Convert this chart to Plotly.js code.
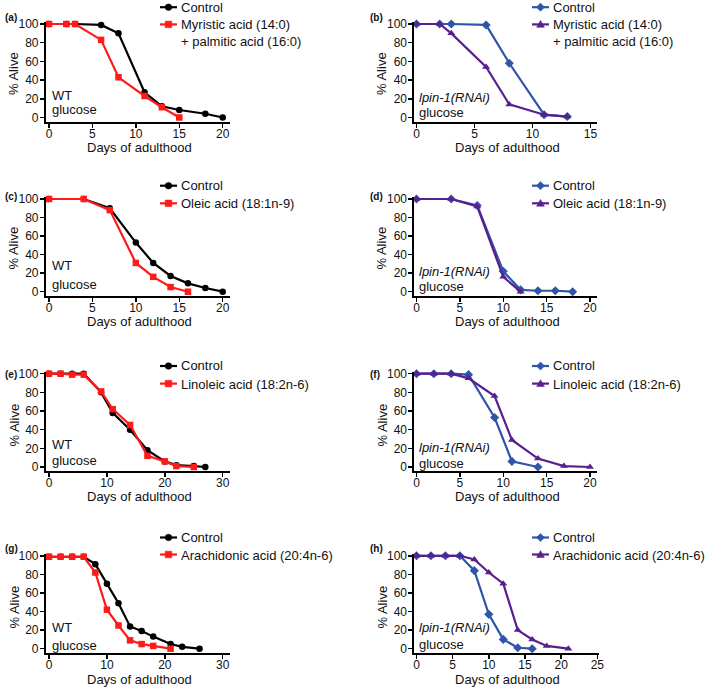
<!DOCTYPE html>
<html><head><meta charset="utf-8">
<script src="https://cdn.plot.ly/plotly-3.0.1.min.js"></script>
<style>html,body{margin:0;padding:0;background:#fff}#chart{width:709px;height:688px}</style>
</head><body><div id="chart"></div>
<script>
// ---------------- DATA ----------------
const panelLabels = ['(a)','(b)','(c)','(d)','(e)','(f)','(g)','(h)'];
const backgroundLabels = ['WT','<i>lpin-1(RNAi)</i>','WT','<i>lpin-1(RNAi)</i>','WT','<i>lpin-1(RNAi)</i>','WT','<i>lpin-1(RNAi)</i>'];
const dietLabel = 'glucose';
const controlName = 'Control';
const treatmentNames = [
  'Myristic acid (14:0)<br>+ palmitic acid (16:0)',
  'Myristic acid (14:0)<br>+ palmitic acid (16:0)',
  'Oleic acid (18:1n-9)',
  'Oleic acid (18:1n-9)',
  'Linoleic acid (18:2n-6)',
  'Linoleic acid (18:2n-6)',
  'Arachidonic acid (20:4n-6)',
  'Arachidonic acid (20:4n-6)'
];
const xTitle = 'Days of adulthood';
const yTitle = '% Alive';
const yTickVals = [0,20,40,60,80,100];
const xTickVals = [
  [0,5,10,15,20],[0,5,10,15],[0,5,10,15,20],[0,5,10,15,20],
  [0,10,20,30],[0,5,10,15,20],[0,10,20,30],[0,5,10,15,20,25]
];

// (a) WT, myristic + palmitic
const daysA_ctrl = [0,2,3,6,8,11,13,15,18,20];
const aliveA_ctrl = [100,100,100,99,90,27,12,8,4,0];
const daysA_fa = [0,2,3,6,8,11,13,15];
const aliveA_fa = [100,100,100,83,43,23,11,0];
// (b) lpin-1(RNAi), myristic + palmitic
const daysB_ctrl = [0,2,3,6,8,11,13];
const aliveB_ctrl = [100,100,100,99,58,3,1];
const daysB_fa = [0,2,3,6,8,11,13];
const aliveB_fa = [100,100,90,54,14,3,1];
// (c) WT, oleic
const daysC_ctrl = [0,4,7,10,12,14,16,18,20];
const aliveC_ctrl = [100,100,90,53,31,17,9,4,0];
const daysC_fa = [0,4,7,10,12,14,16];
const aliveC_fa = [100,100,88,31,16,5,0];
// (d) lpin-1(RNAi), oleic
const daysD_ctrl = [0,4,7,10,12,14,16,18];
const aliveD_ctrl = [100,100,93,22,2,1,1,0];
const daysD_fa = [0,4,7,10,12];
const aliveD_fa = [100,100,92,16,0];
// (e) WT, linoleic
const daysE_ctrl = [0,2,4,6,9,11,14,17,20,22,25,27];
const aliveE_ctrl = [100,100,100,100,80,58,40,18,6,2,1,0];
const daysE_fa = [0,2,4,6,9,11,14,17,20,22,25];
const aliveE_fa = [100,100,99,99,81,62,45,12,6,1,0];
// (f) lpin-1(RNAi), linoleic
const daysF_ctrl = [0,2,4,6,9,11,14];
const aliveF_ctrl = [100,100,100,99,53,6,0];
const daysF_fa = [0,2,4,6,9,11,14,17,20];
const aliveF_fa = [100,100,100,95,76,29,9,1,0];
// (g) WT, arachidonic
const daysG_ctrl = [0,2,4,6,8,10,12,14,16,18,21,23,26];
const aliveG_ctrl = [99,99,99,99,91,70,49,24,19,13,5,2,0];
const daysG_fa = [0,2,4,6,8,10,12,14,16,18,21];
const aliveG_fa = [99,99,99,99,82,42,25,9,5,3,0];
// (h) lpin-1(RNAi), arachidonic
const daysH_ctrl = [0,2,4,6,8,10,12,14,16];
const aliveH_ctrl = [100,100,100,100,84,37,10,1,0];
const daysH_fa = [0,2,4,6,8,10,12,14,16,18,21];
const aliveH_fa = [100,100,100,100,96,82,70,20,10,3,0];

const panelSeries = [
  [daysA_ctrl, aliveA_ctrl, daysA_fa, aliveA_fa],
  [daysB_ctrl, aliveB_ctrl, daysB_fa, aliveB_fa],
  [daysC_ctrl, aliveC_ctrl, daysC_fa, aliveC_fa],
  [daysD_ctrl, aliveD_ctrl, daysD_fa, aliveD_fa],
  [daysE_ctrl, aliveE_ctrl, daysE_fa, aliveE_fa],
  [daysF_ctrl, aliveF_ctrl, daysF_fa, aliveF_fa],
  [daysG_ctrl, aliveG_ctrl, daysG_fa, aliveG_fa],
  [daysH_ctrl, aliveH_ctrl, daysH_fa, aliveH_fa]
];

// ---------------- LAYOUT / STYLE ----------------
const W = 709, H = 688;
const FONT = 'Liberation Sans, Arial, Helvetica, sans-serif';
const TXT = '#111111';
const colGeo = [
  {lineX: 45.5, p0: 49.0, textX: 178.5, titleX: 139, yTitleX: 13.5, annX: 49.5, labX: 3},
  {lineX: 414.0, p0: 416.5, textX: 550.5, titleX: 507, yTitleX: 381.5, annX: 416.5, labX: 368}
];
const lastTickPx = [222.7, 590.5, 222.7, 590.0, 222.7, 590.0, 222.7, 597.3];
const rightPx   = [229.5, 596.5, 229.5, 596.5, 229.5, 596.5, 229.5, 598.5];
const rowGeo = [
  {top: 22.0, p100: 24.0, p0: 117.5, bottom: 122.0, titleY: 147.0, yTitleY: 73.5, legY: 7.2, legGap: 17.2, labY: 17},
  {top: 197.0, p100: 199.0, p0: 291.7, bottom: 296.0, titleY: 321.5, yTitleY: 248, legY: 185.7, legGap: 17.6, labY: 196.7},
  {top: 371.5, p100: 373.7, p0: 467.0, bottom: 471.0, titleY: 497.0, yTitleY: 425, legY: 366.0, legGap: 17.6, labY: 374},
  {top: 553.5, p100: 555.8, p0: 648.7, bottom: 653.0, titleY: 679.0, yTitleY: 607, legY: 537.5, legGap: 17.0, labY: 548.5}
];
const annYs = [[95,109.3],[97.5,112.5],[265,284],[271.5,286.7],[444,460.7],[447.8,463],[627.7,645],[627.5,644.5]];

const ctrlStyleWT = {color:'#000000', symbol:'circle', size:6.5};
const faStyleWT = {color:'#ff1a1a', symbol:'square', size:6.5};
const ctrlStyleRNAi = {color:'#2f55a8', symbol:'diamond', size:7};
const faStyleRNAi = {color:'#5a1f8e', symbol:'triangle-up', size:7};

const px2x = px => px / W;
const px2y = py => 1 - py / H;

const traces = [];
const layout = {
  width: W, height: H,
  margin: {l:0, r:0, t:0, b:0},
  paper_bgcolor: '#ffffff', plot_bgcolor: 'rgba(0,0,0,0)',
  font: {family: FONT, color: TXT, size: 12},
  annotations: [], shapes: [],
  showlegend: false
};

// legend key (line + symbol) drawn as paper shapes
function legendKey(style, cx, cy) {
  const half = 8.5, r = 3.3;
  layout.shapes.push({type:'line', xref:'paper', yref:'paper',
    x0: px2x(cx - half), x1: px2x(cx + half), y0: px2y(cy), y1: px2y(cy),
    line: {color: style.color, width: 2.2}});
  const fill = {fillcolor: style.color, line: {color: style.color, width: 0.5}, xref:'paper', yref:'paper'};
  if (style.symbol === 'circle') {
    layout.shapes.push(Object.assign({type:'circle', x0: px2x(cx-r), x1: px2x(cx+r), y0: px2y(cy+r), y1: px2y(cy-r)}, fill));
  } else if (style.symbol === 'square') {
    layout.shapes.push(Object.assign({type:'rect', x0: px2x(cx-r), x1: px2x(cx+r), y0: px2y(cy+r), y1: px2y(cy-r)}, fill));
  } else if (style.symbol === 'diamond') {
    const d = r + 0.8;
    const p = `M${px2x(cx)},${px2y(cy-d)} L${px2x(cx+d)},${px2y(cy)} L${px2x(cx)},${px2y(cy+d)} L${px2x(cx-d)},${px2y(cy)} Z`;
    layout.shapes.push(Object.assign({type:'path', path: p}, fill));
  } else {
    const d = r + 0.6;
    const p = `M${px2x(cx)},${px2y(cy-d)} L${px2x(cx+d)},${px2y(cy+d*0.75)} L${px2x(cx-d)},${px2y(cy+d*0.75)} Z`;
    layout.shapes.push(Object.assign({type:'path', path: p}, fill));
  }
}

for (let i = 0; i < 8; i++) {
  const col = colGeo[i % 2], row = rowGeo[Math.floor(i / 2)];
  const k = i === 0 ? '' : String(i + 1);
  const xk = 'x' + k, yk = 'y' + k;
  const xt = xTickVals[i];
  const vLast = xt[xt.length - 1];
  const right = rightPx[i];
  const xv = p => (p - col.p0) / (lastTickPx[i] - col.p0) * vLast;
  const yv = p => (row.p0 - p) / (row.p0 - row.p100) * 100;

  const axisCommon = {
    showline: true, linecolor: '#000', linewidth: 1.6,
    ticks: 'outside', ticklen: 4, tickwidth: 1.5, tickcolor: '#000',
    showgrid: false, zeroline: false, fixedrange: true,
    tickfont: {family: FONT, size: 12, color: TXT}
  };
  layout['xaxis' + k] = Object.assign({}, axisCommon, {
    domain: [px2x(col.lineX), px2x(right)],
    range: [xv(col.lineX), xv(right)],
    tickmode: 'array', tickvals: xt, anchor: yk, ticklabelstandoff: -4
  });
  layout['yaxis' + k] = Object.assign({}, axisCommon, {
    domain: [px2y(row.bottom), px2y(row.top)],
    range: [yv(row.bottom), yv(row.top)],
    tickmode: 'array', tickvals: yTickVals, anchor: xk, ticklabelstandoff: -1
  });

  const wt = (i % 2 === 0);
  const cs = wt ? ctrlStyleWT : ctrlStyleRNAi;
  const fs = wt ? faStyleWT : faStyleRNAi;
  const s = panelSeries[i];
  traces.push({
    type: 'scatter', mode: 'lines+markers', x: s[0], y: s[1], name: controlName,
    xaxis: xk, yaxis: yk, cliponaxis: false,
    line: {color: cs.color, width: 2.2},
    marker: {color: cs.color, symbol: cs.symbol, size: cs.size}
  });
  traces.push({
    type: 'scatter', mode: 'lines+markers', x: s[2], y: s[3], name: treatmentNames[i].replace('<br>', ' '),
    xaxis: xk, yaxis: yk, cliponaxis: false,
    line: {color: fs.color, width: 2.2},
    marker: {color: fs.color, symbol: fs.symbol, size: fs.size}
  });

  // legend (drawn manually to match the reference's compact keys)
  const keyX = col.textX - 10;
  const ly1 = row.legY, ly2 = row.legY + row.legGap;
  legendKey(cs, keyX, ly1);
  legendKey(fs, keyX, ly2);
  layout.annotations.push({
    text: controlName, xref: 'paper', yref: 'paper',
    x: px2x(col.textX), y: px2y(ly1), xanchor: 'left', yanchor: 'middle',
    showarrow: false, font: {family: FONT, size: 13, color: TXT}
  });
  layout.annotations.push({
    text: treatmentNames[i], xref: 'paper', yref: 'paper', align: 'left',
    x: px2x(col.textX), y: px2y(ly2 - 9), xanchor: 'left', yanchor: 'top',
    showarrow: false, font: {family: FONT, size: 13, color: TXT}
  });

  // panel label
  layout.annotations.push({
    text: '<b>' + panelLabels[i] + '</b>', xref: 'paper', yref: 'paper',
    x: px2x(col.labX), y: px2y(row.labY), xanchor: 'left', yanchor: 'middle',
    showarrow: false, font: {family: FONT, size: 10, color: TXT}
  });
  // strain / diet labels
  layout.annotations.push({
    text: backgroundLabels[i], xref: 'paper', yref: 'paper',
    x: px2x(col.annX), y: px2y(annYs[i][0]), xanchor: 'left', yanchor: 'middle',
    showarrow: false, font: {family: FONT, size: 13, color: TXT}
  });
  layout.annotations.push({
    text: dietLabel, xref: 'paper', yref: 'paper',
    x: px2x(col.annX), y: px2y(annYs[i][1]), xanchor: 'left', yanchor: 'middle',
    showarrow: false, font: {family: FONT, size: 13, color: TXT}
  });
  // axis titles
  layout.annotations.push({
    text: xTitle, xref: 'paper', yref: 'paper',
    x: px2x(col.titleX), y: px2y(row.titleY), xanchor: 'center', yanchor: 'middle',
    showarrow: false, font: {family: FONT, size: 13, color: TXT}
  });
  layout.annotations.push({
    text: yTitle, xref: 'paper', yref: 'paper', textangle: -90,
    x: px2x(col.yTitleX), y: px2y(row.yTitleY), xanchor: 'center', yanchor: 'middle',
    showarrow: false, font: {family: FONT, size: 13, color: TXT}
  });
}

Plotly.newPlot('chart', traces, layout, {displayModeBar: false, staticPlot: true});
</script>
</body></html>
